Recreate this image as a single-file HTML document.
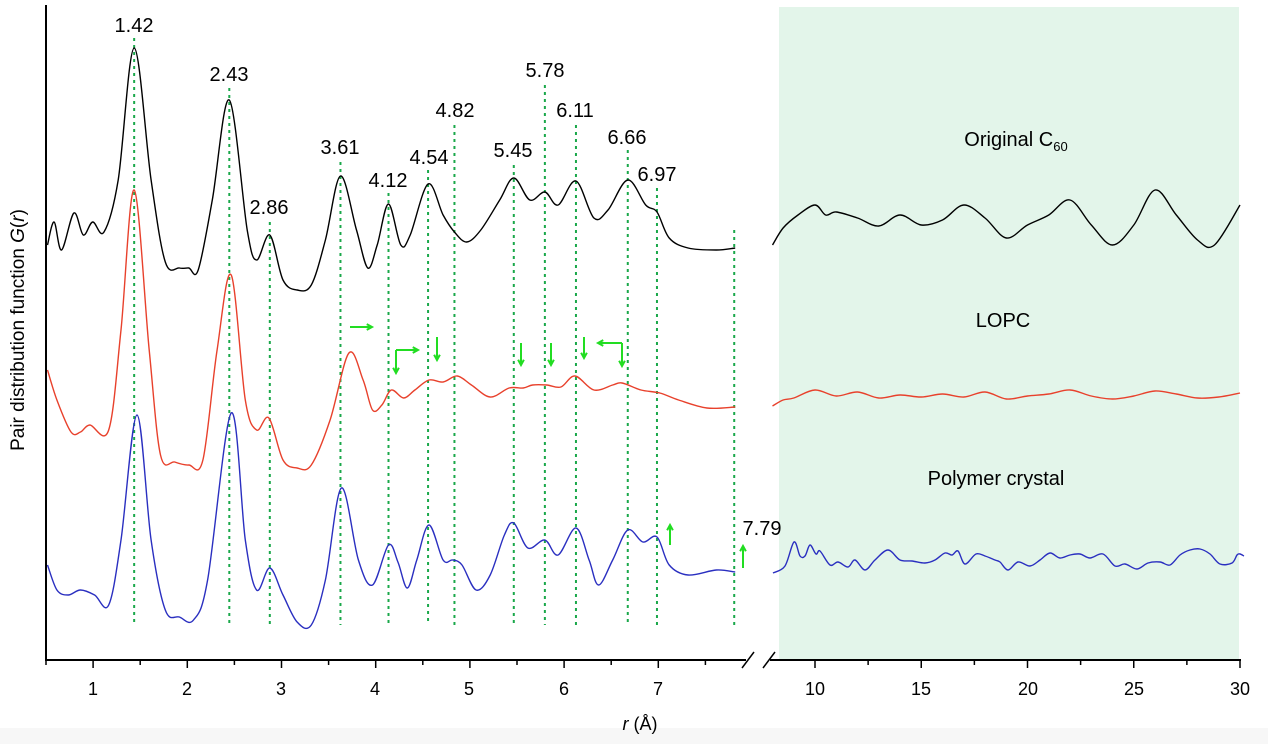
<!DOCTYPE html>
<html><head><meta charset="utf-8"><style>
html,body{margin:0;padding:0;background:#fff;}
svg text{font-family:"Liberation Sans",Arial,sans-serif;}
</style></head><body>
<svg id="s" width="1268" height="744" viewBox="0 0 1268 744" xmlns="http://www.w3.org/2000/svg">
<rect x="0" y="0" width="1268" height="744" fill="#fff"/>
<rect x="0" y="728" width="1268" height="16" fill="#f7f7f7"/>
<rect x="779" y="7" width="460" height="653" fill="#e3f5ea"/>
<g id="dl" stroke="#1aa84a" stroke-width="2" stroke-dasharray="3,4"></g>
<g id="cv" fill="none" stroke-width="1.4"></g>
<line x1="46" y1="5" x2="46" y2="661" stroke="#000" stroke-width="2"/>
<line x1="46" y1="660" x2="746" y2="660" stroke="#000" stroke-width="2"/>
<line x1="770" y1="660" x2="1241" y2="660" stroke="#000" stroke-width="2"/>
<line x1="742" y1="668" x2="754" y2="652" stroke="#000" stroke-width="1.5"/>
<line x1="763" y1="668" x2="775" y2="652" stroke="#000" stroke-width="1.5"/>
<g id="tk" stroke="#000" stroke-width="1.5"></g>
<g font-size="18" fill="#000" text-anchor="middle">
<text x="93" y="695">1</text><text x="187" y="695">2</text><text x="281" y="695">3</text>
<text x="375" y="695">4</text><text x="469" y="695">5</text><text x="564" y="695">6</text>
<text x="658" y="695">7</text>
<text x="815" y="695">10</text><text x="921" y="695">15</text><text x="1028" y="695">20</text>
<text x="1134" y="695">25</text><text x="1240" y="695">30</text>
<text x="640" y="730"><tspan font-style="italic">r</tspan> (Å)</text>
</g>
<text transform="translate(24,330) rotate(-90)" font-size="19" text-anchor="middle">Pair distribution function <tspan font-style="italic">G</tspan>(<tspan font-style="italic">r</tspan>)</text>
<g font-size="20" text-anchor="middle">
<text x="134" y="32">1.42</text><text x="229" y="81">2.43</text><text x="269" y="214">2.86</text>
<text x="340" y="154">3.61</text><text x="388" y="187">4.12</text><text x="429" y="164">4.54</text>
<text x="455" y="117">4.82</text><text x="513" y="157">5.45</text><text x="545" y="77">5.78</text>
<text x="575" y="117">6.11</text><text x="627" y="144">6.66</text><text x="657" y="181">6.97</text>
<text x="762" y="535">7.79</text>
<text x="1016" y="146">Original C<tspan font-size="13" dy="5">60</tspan></text>
<text x="1003" y="327">LOPC</text>
<text x="996" y="485">Polymer crystal</text>
</g>
<g id="ar" stroke="#22dd22" stroke-width="2" fill="none"></g>
</svg>
<script>
var s='http://www.w3.org/2000/svg';
function X(r){return 47.5+(r-0.5)*94.2;}
function el(p,n,a){var e=document.createElementNS(s,n);for(var k in a)e.setAttribute(k,a[k]);document.getElementById(p).appendChild(e);return e;}
function cr(pts){var d='M'+pts[0][0]+','+pts[0][1];for(var i=0;i<pts.length-1;i++){var p0=pts[i-1]||pts[i],p1=pts[i],p2=pts[i+1],p3=pts[i+2]||p2;
d+=' C'+(p1[0]+(p2[0]-p0[0])/6).toFixed(1)+','+(p1[1]+(p2[1]-p0[1])/6).toFixed(1)+' '+(p2[0]-(p3[0]-p1[0])/6).toFixed(1)+','+(p2[1]-(p3[1]-p1[1])/6).toFixed(1)+' '+p2[0].toFixed(1)+','+p2[1].toFixed(1);}return d;}
function L(a){return a.map(function(p){return [X(p[0]),p[1]];});}
[[1.42,38],[2.43,88],[2.86,222],[3.61,162],[4.12,193],[4.54,170],[4.82,125],[5.45,165],[5.78,85],[6.11,125],[6.66,150],[6.97,188],[7.79,230]].forEach(function(v){var x=X(v[0]);el('dl','line',{x1:x,y1:v[1],x2:x,y2:625});});
for(var r=1;r<=7.5;r+=0.5){var x=46+(r-0.5)*94.2;el('tk','line',{x1:x,y1:660,x2:x,y2:r%1==0?668:665});}
el('tk','line',{x1:46,y1:660,x2:46,y2:665});
for(var r=10;r<=30;r+=2.5){var x=815+(r-10)*21.25;el('tk','line',{x1:x,y1:660,x2:x,y2:r%5==0?668:665});}
var bk=L([[0.5,245],[0.57,222],[0.65,250],[0.78,213],[0.88,235],[0.98,222],[1.1,232],[1.25,180],[1.42,48],[1.6,180],[1.75,262],[1.9,268],[2.0,268],[2.1,270],[2.25,200],[2.43,100],[2.62,230],[2.72,260],[2.86,235],[3.0,280],[3.15,290],[3.3,285],[3.45,240],[3.61,176],[3.78,230],[3.9,268],[4.0,245],[4.12,204],[4.25,245],[4.35,235],[4.54,184],[4.7,215],[4.82,232],[4.95,242],[5.1,230],[5.3,200],[5.45,178],[5.62,200],[5.78,192],[5.92,205],[6.11,181],[6.3,218],[6.45,210],[6.66,180],[6.85,205],[6.97,212],[7.1,238],[7.3,248],[7.6,250],[7.8,248]]);
var rd=L([[0.5,370],[0.6,400],[0.75,432],[0.85,432],[0.95,425],[1.15,430],[1.28,330],[1.42,190],[1.58,350],[1.7,455],[1.85,462],[2.0,465],[2.15,460],[2.3,350],[2.45,275],[2.6,400],[2.72,430],[2.85,418],[3.0,460],[3.15,468],[3.3,465],[3.5,420],[3.7,353],[3.85,380],[3.95,410],[4.05,405],[4.15,390],[4.28,398],[4.4,390],[4.55,380],[4.7,382],[4.85,376],[5.0,385],[5.2,397],[5.4,388],[5.55,388],[5.65,385],[5.8,385],[5.95,387],[6.1,376],[6.3,390],[6.5,385],[6.6,383],[6.8,390],[7.0,393],[7.2,400],[7.5,408],[7.8,407]]);
var bl=L([[0.5,565],[0.6,590],[0.72,595],[0.85,590],[1.0,595],[1.15,605],[1.28,540],[1.45,415],[1.6,540],[1.75,610],[1.9,617],[2.05,620],[2.2,580],[2.45,413],[2.6,540],[2.72,590],[2.86,568],[3.0,595],[3.15,622],[3.3,625],[3.45,580],[3.62,488],[3.8,560],[3.95,585],[4.12,545],[4.22,562],[4.32,588],[4.42,560],[4.55,525],[4.7,560],[4.8,560],[4.9,565],[5.05,590],[5.2,575],[5.35,535],[5.45,523],[5.6,548],[5.78,540],[5.92,555],[6.11,528],[6.25,560],[6.35,585],[6.5,560],[6.66,530],[6.82,542],[6.97,537],[7.1,565],[7.3,575],[7.6,570],[7.8,572]]);
function R(a){return a.map(function(p){return [815+(p[0]-10)*21.25,p[1]];});}
var bk2=R([[8.0,245],[8.5,228],[9.2,215],[10,205],[10.5,215],[11,212],[12,218],[13,226],[14,215],[15,225],[16,220],[17,205],[18,218],[19,238],[20,225],[21,215],[22,200],[23,225],[24,245],[25,225],[26,190],[27,215],[28,240],[28.8,245],[30,205]]);
var rd2=R([[8.0,406],[8.5,400],[9,398],[10,390],[11,396],[12,392],[13,398],[14,395],[15,397],[16,394],[17,397],[18,392],[19,399],[20,396],[21,394],[22,390],[23,396],[24,399],[25,396],[26,391],[27,394],[28,398],[29,397],[30,393]]);
var bl2=[[773,573],[785,566],[794,542],[800,556],[805,556],[810,545],[816,554],[820,551],[830,565],[838,562],[848,567],[855,560],[865,570],[875,560],[888,550],[900,560],[912,561],[925,563],[935,560],[945,553],[952,555],[958,551],[965,564],[976,554],[985,556],[995,560],[1000,562],[1008,570],[1018,562],[1030,566],[1040,560],[1050,553],[1060,558],[1070,555],[1080,554],[1090,558],[1103,554],[1115,566],[1125,564],[1137,569],[1148,563],[1160,562],[1170,565],[1180,555],[1190,550],[1200,549],[1210,554],[1220,564],[1232,563],[1237,555],[1240,554],[1244,556]];
[[bk,'#000'],[bk2,'#000'],[rd,'#e8412c'],[rd2,'#e8412c'],[bl,'#2a2fc0'],[bl2,'#2a2fc0']].forEach(function(c){el('cv','path',{d:cr(c[0]),stroke:c[1]});});
function arrow(x1,y1,x2,y2){el('ar','line',{x1:x1,y1:y1,x2:x2,y2:y2});var a=Math.atan2(y2-y1,x2-x1),h=6;
el('ar','polyline',{points:(x2-h*Math.cos(a-0.5))+','+(y2-h*Math.sin(a-0.5))+' '+x2+','+y2+' '+(x2-h*Math.cos(a+0.5))+','+(y2-h*Math.sin(a+0.5))});}
arrow(350,327,372,327);
arrow(396,350,396,373);arrow(396,350,418,350);
arrow(437,337,437,360);arrow(521,343,521,365);arrow(551,343,551,365);arrow(584,337,584,358);
arrow(622,343,598,343);arrow(622,343,622,366);
arrow(670,545,670,525);arrow(743,568,743,546);
</script>
</body></html>
